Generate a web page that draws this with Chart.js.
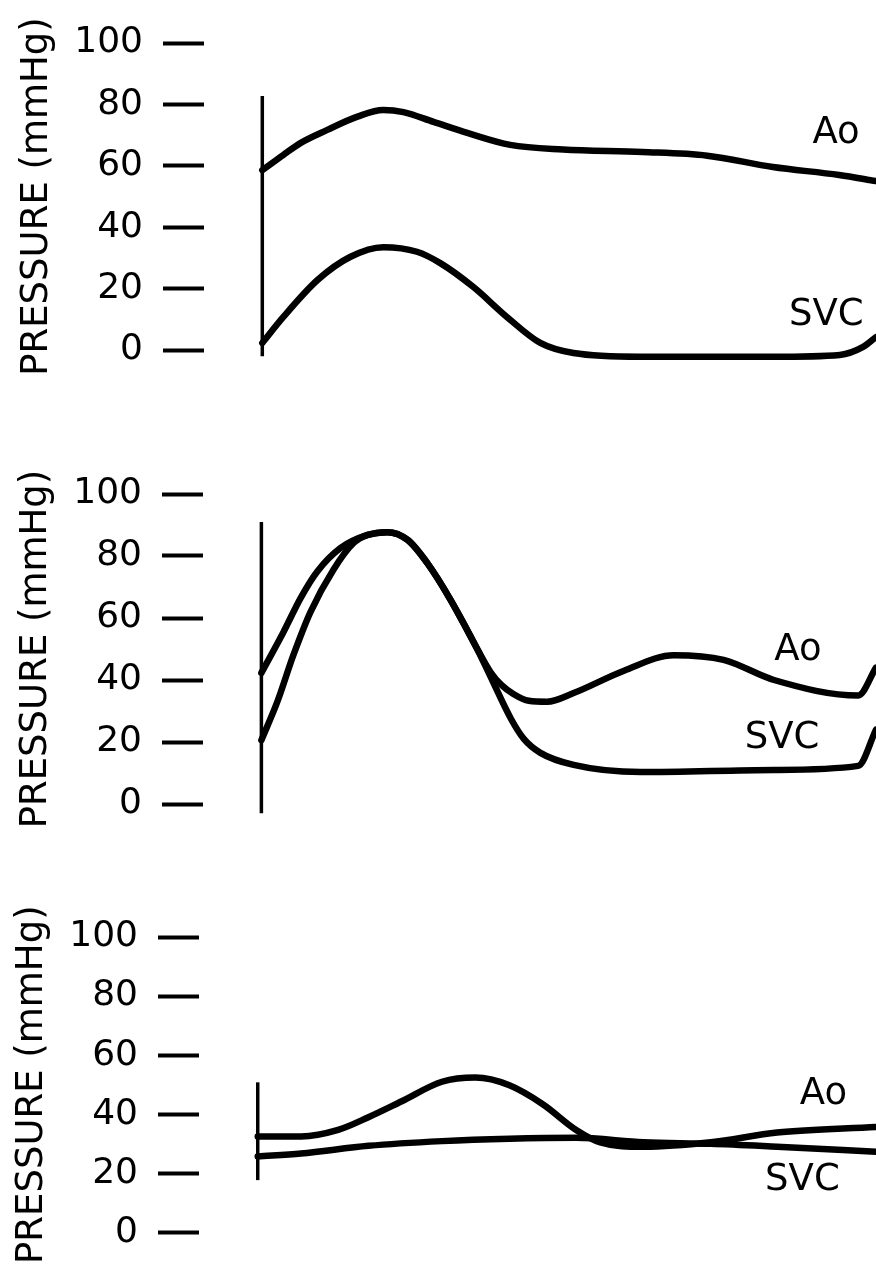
<!DOCTYPE html>
<html>
<head>
<meta charset="utf-8">
<script src="https://cdn.jsdelivr.net/npm/chart.js@4.4.0/dist/chart.umd.min.js"></script>
<style>
  body { margin: 0; background: #fff; width: 876px; height: 1274px; overflow: hidden; position: relative; }
  canvas { position: absolute; display: block; }
</style>
</head>
<body>
<canvas id="c1" width="876" height="440" style="left:0;top:0"></canvas>
<canvas id="c2" width="877" height="440" style="left:-1px;top:451px"></canvas>
<canvas id="c3" width="881" height="380" style="left:-5px;top:894px"></canvas>
<script>
// y ticks shared by all three panels
const tickValues = [0, 20, 40, 60, 80, 100];
const axisTitle = 'PRESSURE (mmHg)';

// Panel 1 (top)
const aoT1  = [0, 3.4, 6.2, 10.6, 15.5, 19.7, 23, 27.9, 33.4, 40.4, 49, 61.9, 72.5, 83.2, 94, 100];
const ao1   = [58.6, 63.5, 67.4, 71.7, 76, 78.2, 77.5, 74.3, 70.7, 66.8, 65.3, 64.5, 63.3, 59.6, 57, 55];
const svcT1 = [0, 3.4, 9, 14.3, 19.7, 25.2, 29, 34.4, 39.9, 45.3, 50.7, 61.6, 83.2, 94.1, 97.9, 100];
const svc1  = [2.3, 10.7, 22.8, 30.3, 33.5, 32, 28.3, 20.5, 10.7, 2.3, -1, -2.2, -2.2, -1.6, 1, 4.2];
const mark1 = [-2, 82.7];

// Panel 2 (middle)
const aoT2  = [0, 3.6, 6.4, 9.1, 12.9, 17.3, 20.5, 23.8, 27, 30.8, 35.2, 37.3, 39, 41, 43.5, 46.5, 50.8, 59, 67.1, 75.2, 83.4, 97.1, 100];
const ao2   = [42.3, 55.5, 66.5, 75, 82.6, 86.8, 87.7, 85.2, 77.7, 65.8, 49.7, 42.5, 38.5, 35.5, 33.3, 33, 35.8, 43, 48, 46.5, 40, 35, 44];
const svcT2 = [0, 2.6, 5.2, 8, 11.7, 15, 17.3, 20.5, 23.8, 27, 30.8, 35.2, 37.3, 40.6, 42.7, 45.4, 50.8, 61.7, 83.4, 97.1, 100];
const svc2  = [20.6, 33, 48, 62, 75.5, 84.2, 86.8, 87.7, 85.2, 77.7, 65.8, 49.7, 41, 27.5, 21, 16.5, 12.6, 10.3, 11, 12.3, 24];
const mark2 = [-3, 91];

// Panel 3 (bottom)
const aoT3  = [0, 7, 13, 17.9, 23.3, 29.8, 35.2, 40.7, 46.1, 51.5, 55.4, 62.4, 73.3, 84, 100];
const ao3   = [32.5, 32.5, 34.7, 39, 44.4, 51, 52.4, 49.8, 43.4, 34.7, 30.5, 29, 30.5, 33.8, 35.7];
const svcT3 = [0, 7, 17.9, 29.8, 40.7, 51.5, 62.4, 73.3, 84, 100];
const svc3  = [25.7, 26.7, 29.3, 30.9, 31.7, 32, 30.5, 30, 29, 27.3];
const mark3 = [17.7, 50.8];

Chart.defaults.font.family = '"DejaVu Sans", sans-serif';
Chart.defaults.color = '#000';

const pts = (xs, ys) => xs.map((x, i) => ({ x, y: ys[i] }));

// draws the "Ao" / "SVC" tags at data positions
const tagPlugin = {
  id: 'tags',
  afterDatasetsDraw(chart, args, opts) {
    const { ctx, scales: { x, y } } = chart;
    ctx.save();
    ctx.font = '37px "DejaVu Sans"';
    ctx.fillStyle = '#000';
    ctx.textAlign = 'center';
    ctx.textBaseline = 'middle';
    (opts.items || []).forEach(t => ctx.fillText(t.text, x.getPixelForValue(t.x), y.getPixelForValue(t.y)));
    ctx.restore();
  }
};

const panels = [
  { id: 'c1', ao: pts(aoT1, ao1), svc: pts(svcT1, svc1), mark: mark1, bottom: 90,
    tags: [{ text: 'Ao', x: 93.5, y: 70.7 }, { text: 'SVC', x: 91.9, y: 11.4 }] },
  { id: 'c2', ao: pts(aoT2, ao2), svc: pts(svcT2, svc2), mark: mark2, bottom: 87,
    tags: [{ text: 'Ao', x: 87.3, y: 49.7 }, { text: 'SVC', x: 84.7, y: 21.3 }] },
  { id: 'c3', ao: pts(aoT3, ao3), svc: pts(svcT3, svc3), mark: mark3, bottom: 26,
    tags: [{ text: 'Ao', x: 91.5, y: 46.6 }, { text: 'SVC', x: 88.1, y: 17.7 }] },
];

const curve = { borderColor: '#000', borderWidth: 6.5, pointRadius: 0, fill: false,
  cubicInterpolationMode: 'monotone', clip: false, borderCapStyle: 'round', borderJoinStyle: 'round' };

panels.forEach(p => {
  new Chart(document.getElementById(p.id), {
    type: 'line',
    data: {
      datasets: [
        { label: 'Ao', data: p.ao, ...curve },
        { label: 'SVC', data: p.svc, ...curve },
        { label: 'start', data: p.mark.map(v => ({ x: 0, y: v })), borderColor: '#000', borderWidth: 3.5,
          pointRadius: 0, tension: 0, clip: false },
      ]
    },
    options: {
      responsive: false,
      animation: false,
      events: [],
      layout: { padding: { left: 0, right: 0, top: 43, bottom: p.bottom } },
      plugins: { legend: { display: false }, tooltip: { enabled: false }, tags: { items: p.tags } },
      scales: {
        x: { type: 'linear', min: -9.5, max: 100, display: false },
        y: {
          type: 'linear', min: 0, max: 100,
          afterBuildTicks: s => { s.ticks = tickValues.map(v => ({ value: v })); },
          afterFit: s => { s.width = 204; },
          border: { display: false },
          grid: { drawOnChartArea: false, tickLength: 41, tickWidth: 4, tickColor: '#000' },
          ticks: { padding: 20, font: { size: 36 }, color: '#000' },
          title: { display: true, text: axisTitle, font: { size: 37 }, color: '#000', padding: { top: 15, bottom: 0 } }
        }
      }
    },
    plugins: [tagPlugin]
  });
});
</script>
</body>
</html>
